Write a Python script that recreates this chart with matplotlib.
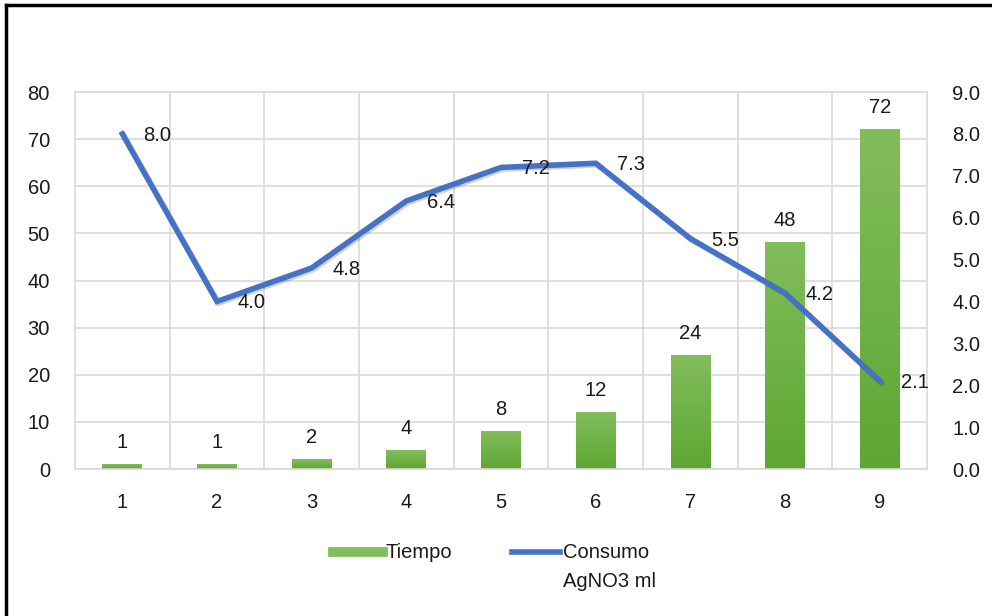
import numpy as np
import matplotlib
matplotlib.use("Agg")
import matplotlib.pyplot as plt
from matplotlib.lines import Line2D
from matplotlib.colors import LinearSegmentedColormap
import matplotlib.patheffects as pe

plt.rcParams['font.family'] = ['Liberation Sans', 'DejaVu Sans']

muestras = [1, 2, 3, 4, 5, 6, 7, 8, 9]
tiempo = [1, 1, 2, 4, 8, 12, 24, 48, 72]
consumo = [8.0, 4.0, 4.8, 6.4, 7.2, 7.3, 5.5, 4.2, 2.1]
etiquetas = ['Tiempo', 'Consumo\nAgNO3 ml']

verde_claro = '#82bd5b'
verde_oscuro = '#5ea633'
azul = '#4472c4'
gris = '#d9d9d9'
texto = '#1a1a1a'
fs = 14.5

fig = plt.figure(figsize=(9.92, 6.16), dpi=100)
ax = fig.add_axes([0.0756, 0.2386, 0.859, 0.612])

x = np.arange(len(muestras)) + 1
barras = ax.bar(x, tiempo, width=0.42, color=verde_oscuro, zorder=2)

# degradado vertical en cada barra
cmap = LinearSegmentedColormap.from_list('verde', [verde_oscuro, verde_claro])
grad = np.linspace(0, 1, 100).reshape(-1, 1)
for b in barras:
    x0, w, h = b.get_x(), b.get_width(), b.get_height()
    ax.imshow(grad, extent=[x0, x0 + w, 0, h], origin='lower', aspect='auto',
              cmap=cmap, zorder=2.5)

for xi, v in zip(x, tiempo):
    ax.annotate(str(v), (xi, v), xytext=(0, 9), textcoords='offset points',
                ha='center', va='bottom', fontsize=fs, color=texto)

ax.set_xlim(0.5, 9.5)
ax.set_ylim(0, 80)
ax.set_yticks(range(0, 81, 10))
ax.set_xticks(x)
ax.set_xticklabels([str(m) for m in muestras])
ax.set_xticks(np.arange(1.5, 9.5, 1), minor=True)
ax.grid(True, which='major', axis='y', color=gris, lw=1.2, zorder=0)
ax.grid(True, which='minor', axis='x', color=gris, lw=1.2, zorder=0)
ax.tick_params(which='both', length=0)
ax.tick_params(axis='x', pad=17, labelsize=fs, colors=texto)
ax.tick_params(axis='y', pad=18, labelsize=fs, colors=texto)
for s in ax.spines.values():
    s.set_color(gris)
    s.set_linewidth(1.2)
ax.set_axisbelow(True)

ax2 = ax.twinx()
ax2.plot(x, consumo, color=azul, lw=4, solid_joinstyle='miter', zorder=3,
         path_effects=[pe.SimpleLineShadow(offset=(1.2, -1.2), alpha=0.18),
                       pe.Normal()])
for xi, v in zip(x, consumo):
    ax2.annotate(f'{v:.1f}', (xi, v), xytext=(15, -1), textcoords='offset points',
                 ha='left', va='center', fontsize=fs, color=texto)
ax2.set_ylim(0, 9)
ax2.set_yticks(np.arange(0, 9.1, 1))
ax2.set_yticklabels([f'{t:.1f}' for t in np.arange(0, 9.1, 1)])
ax2.tick_params(length=0, pad=18, labelsize=fs, colors=texto)
for s in ax2.spines.values():
    s.set_visible(False)

# leyenda: muestras alineadas con la primera linea del texto
y_ley = 1 - 552 / 616
fig.add_artist(Line2D([333 / 992, 383 / 992], [y_ley, y_ley], color=verde_claro,
                      lw=7, transform=fig.transFigure))
fig.text(386 / 992, y_ley, etiquetas[0], ha='left', va='center', fontsize=fs,
         color=texto)
fig.add_artist(Line2D([512 / 992, 560 / 992], [y_ley, y_ley], color=azul,
                      lw=4, transform=fig.transFigure))
fig.text(563 / 992, y_ley + 0.015, etiquetas[1], ha='left', va='top', fontsize=fs,
         color=texto, linespacing=1.65)

# marco exterior
fig.add_artist(Line2D([0.006, 0.006], [0, 0.992], color='black', lw=2.5,
                      transform=fig.transFigure))
fig.add_artist(Line2D([0.006, 1], [0.992, 0.992], color='black', lw=2.5,
                      transform=fig.transFigure))

fig.savefig('out.png', dpi=100, facecolor='white')
